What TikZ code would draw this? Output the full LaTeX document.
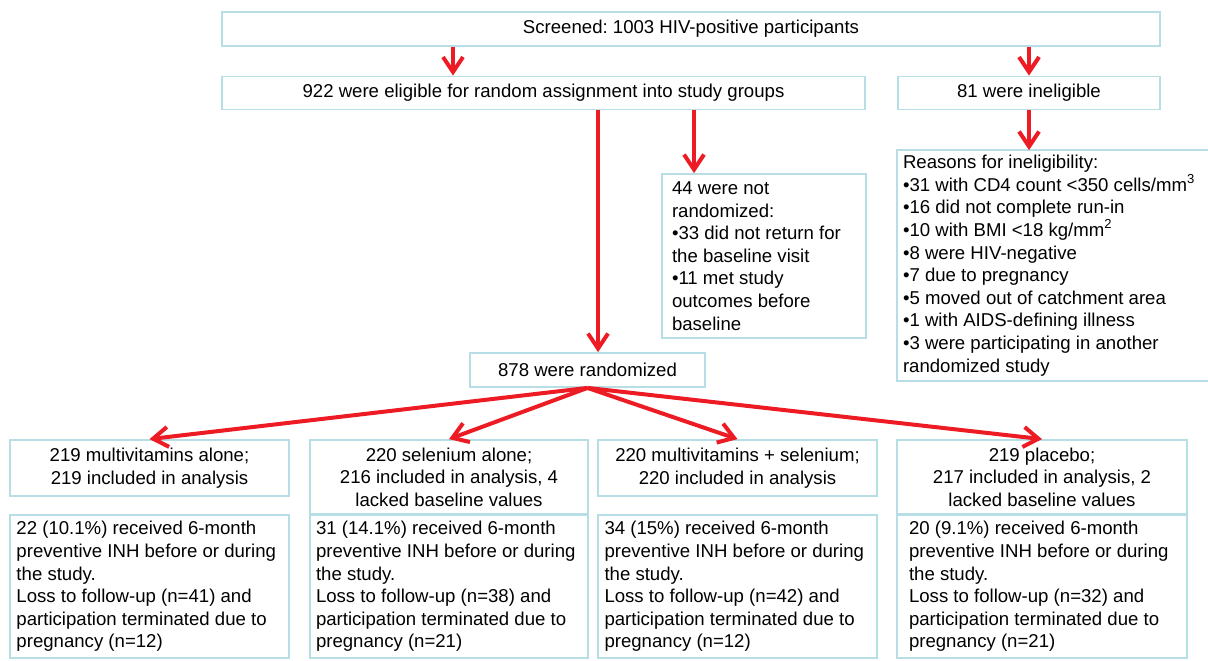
\documentclass[tikz,border=0pt]{standalone}
\usepackage{fontspec}
\setmainfont{Liberation Sans}
\usepackage{tikz}
\usetikzlibrary{arrows.meta}
\definecolor{flowred}{RGB}{237,28,36}
\definecolor{boxline}{RGB}{183,221,229}
\tikzstyle{box}=[draw=boxline, line width=0.9pt, rectangle, inner sep=0pt, align=center]
\tikzstyle{lbox}=[box, align=flush left, inner xsep=3.25pt]
\tikzstyle{flow}=[draw=flowred, line width=2pt, ->]
\frenchspacing

\begin{document}
\begin{tikzpicture}[x=0.5pt, y=-0.5pt, font=\fontsize{9.3}{11.3}\selectfont,
    >={Straight Barb[length=7.5pt,width=10pt]}]
  \useasboundingbox (0,0) rectangle (1208,660);
  \clip (0,0) rectangle (1208,660);
  \node[box] at (691,29) (scr)[minimum width=469pt, minimum height=16.75pt] {Screened: 1003 HIV-positive participants};
  \node[box] at (543.5,93) (elig)[minimum width=321.5pt, minimum height=16.5pt] {922 were eligible for random assignment into study groups};
  \node[box] at (1029,93) (inel)[minimum width=131pt, minimum height=16.5pt] {81 were ineligible};
  \node[lbox] at (764,256) (notrand)[inner xsep=5pt, text width=92pt, minimum height=82pt] {44 were not\\randomized:\\•33 did not return for\\the baseline visit\\•11 met study\\outcomes before\\baseline};
  % runs off the right edge, so no right side
  \node[lbox] at (1053,265.5) (reas)[draw=none, inner xsep=2.5pt, text width=150pt, minimum height=114.5pt] {Reasons for ineligibility:\\•31 with CD4 count <350 cells/mm\textsuperscript{3}\\•16 did not complete run-in\\•10 with BMI <18 kg/mm\textsuperscript{2}\\•8 were HIV-negative\\•7 due to pregnancy\\•5 moved out of catchment area\\•1 with AIDS-defining illness\\•3 were participating in another\\randomized study};
  \coordinate (edge) at (1208,0);
  \draw[boxline, line width=0.9pt] (reas.north -| edge) -- (reas.north west) -- (reas.south west) -- (reas.south -| edge);
  \node[box] at (587.5,370) (rand)[minimum width=117.5pt, minimum height=17pt] {878 were randomized};

  % study groups
  \node[box] at (149.5,468) (mv)[minimum width=139.5pt, minimum height=28pt] {219 multivitamins alone;\\219 included in analysis};
  \node[box] at (449,477) (se)[minimum width=139pt, minimum height=37pt] {220 selenium alone;\\216 included in analysis, 4\\lacked baseline values};
  \node[box] at (737.5,468) (mvse)[minimum width=139.5pt, minimum height=28pt] {220 multivitamins + selenium;\\220 included in analysis};
  \node[box] at (1042,477) (pl)[minimum width=145pt, minimum height=37pt] {219 placebo;\\217 included in analysis, 2\\lacked baseline values};

  \node[lbox] at (149.5,586.5) (mvinh)[text width=133pt, minimum height=71.5pt] {22 (10.1\%) received 6-month\\preventive INH before or during\\the study.\\Loss to follow-up (n=41) and\\participation terminated due to\\pregnancy (n=12)};
  \node[lbox] at (449,586.5) (seinh)[inner xsep=3pt, text width=133pt, minimum height=71.5pt] {31 (14.1\%) received 6-month\\preventive INH before or during\\the study.\\Loss to follow-up (n=38) and\\participation terminated due to\\pregnancy (n=21)};
  \node[lbox] at (737.5,586.5) (mvseinh)[text width=133pt, minimum height=71.5pt] {34 (15\%) received 6-month\\preventive INH before or during\\the study.\\Loss to follow-up (n=42) and\\participation terminated due to\\pregnancy (n=12)};
  \node[lbox] at (1042,586.5) (plinh)[inner xsep=6pt, text width=133pt, minimum height=71.5pt] {20 (9.1\%) received 6-month\\preventive INH before or during\\the study.\\Loss to follow-up (n=32) and\\participation terminated due to\\pregnancy (n=21)};

  \coordinate (c0) at (453,0);
  \coordinate (c1) at (598,0);
  \coordinate (c2) at (694,0);

  \draw[flow] (scr.south -| c0) -- (elig.north -| c0);
  \draw[flow] (scr.south -| inel.north) -- (inel);
  \draw[flow] (inel) -- (reas.north -| inel.south);
  \draw[flow] (elig.south -| c1) -- (rand.north -| c1);
  \draw[flow] (elig.south -| c2) -- (notrand.north -| c2);

  \draw[flow] (rand.south) -- (mv.north);
  \draw[flow] (rand.south) -- (se.north);
  \draw[flow] (rand.south) -- (mvse.north);
  \draw[flow] (rand.south) -- (pl.north);
\end{tikzpicture}
\end{document}
